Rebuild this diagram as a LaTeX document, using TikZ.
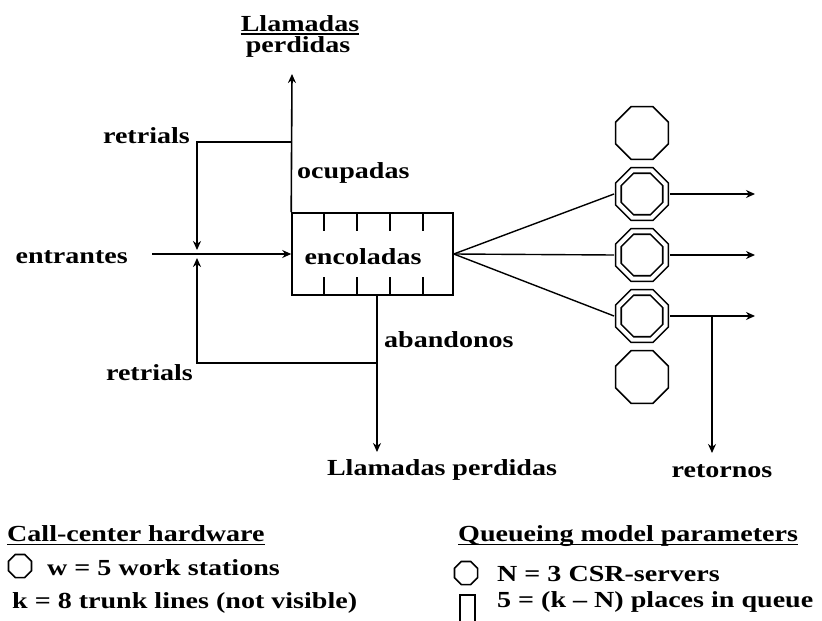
\documentclass[tikz,border=0pt]{standalone}
\usepackage{fontspec}
\usetikzlibrary{arrows.meta,shapes.geometric}
\newfontfamily\diagfont{Liberation Serif}[FakeStretch=1.22]

\begin{document}
\begin{tikzpicture}[x=1pt,y=-1pt,
  flow/.style={line width=1.6pt},
  fan/.style={line width=1.4pt},
  arr/.style={flow,-{Stealth[length=9pt,width=8pt]}},
  lbl/.style={font=\diagfont\bfseries\fontsize{23}{21}\selectfont, inner sep=0pt},
  uline/.style={line width=1.3pt},
  octa/.style={draw, line width=1.6pt, regular polygon, regular polygon sides=8,
    minimum size=#1, inner sep=0pt},
  busy/.style={octa=51pt, double, double distance=4pt},
  idle/.style={octa=57pt},
  qbox/.style={draw, line width=1.6pt, minimum width=161pt, minimum height=82pt, inner sep=0pt}
]
\useasboundingbox (0,0) rectangle (822,621);

% queue with its waiting places
\node[qbox] (queue) at (372.5,254) {};
\foreach \k in {1,...,4} {
  \draw[flow] ([xshift=\k*33pt]queue.north west) -- ++(0,19);
  \draw[flow] ([xshift=\k*33pt]queue.south west) -- ++(0,-19);
}
\node[lbl, anchor=base] (qlabel) at (363,264) {encoladas};

% incoming calls
\node[lbl, anchor=base east] (entr) at (128,263) {entrantes};
\coordinate (inA) at (152,254);
\draw[arr] (inA) -- (queue.west);

% busy signal: lost calls and retrials
\coordinate (lostTop) at (292,74);
\coordinate (jTop) at (292,142);
\coordinate (mTop) at (197,142);
\coordinate (mergeA) at (197,250);
\draw[arr] (queue.north west) -- (lostTop);
\draw[arr] (jTop) -- (mTop) -- (mergeA);
\node[lbl, anchor=base] (lostTopA) at (300,31) {Llamadas};
\draw[uline] ([yshift=-3pt]lostTopA.base west) -- ([yshift=-3pt]lostTopA.base east);
\node[lbl, anchor=base] (lostTopB) at (298,52) {perdidas};
\node[lbl, anchor=base west] (ocup) at (297,178) {ocupadas};
\node[lbl, anchor=base east] (retA) at (190,143) {retrials};

% abandonment: lost calls and retrials
\coordinate (lostBot) at (377,452);
\coordinate (jBot) at (377,363);
\coordinate (mBot) at (197,363);
\coordinate (mergeB) at (197,258);
\draw[arr] ([xshift=4.5pt]queue.south) -- (lostBot);
\draw[arr] (jBot) -- (mBot) -- (mergeB);
\node[lbl, anchor=base west] (aband) at (384,347) {abandonos};
\node[lbl, anchor=base east] (retB) at (193,380) {retrials};
\node[lbl, anchor=base] (lostBotLbl) at (442,475) {Llamadas perdidas};

% work stations: idle ones and CSR servers
\node[idle] (w1) at (642,133) {};
\node[busy] (s1) at (642,194) {};
\node[busy] (s2) at (642,255) {};
\node[busy] (s3) at (642,316) {};
\node[idle] (w5) at (642,377) {};

\draw[fan] (queue.east) -- ([xshift=-3.6pt]s1.west);
\draw[fan] (queue.east) -- ([xshift=-3.6pt]s2.west);
\draw[fan] (queue.east) -- ([xshift=-3.6pt]s3.west);

\coordinate (o1) at (755,194);
\coordinate (o2) at (755,255);
\coordinate (o3) at (755,316);
\draw[arr] ([xshift=3.6pt]s1.east) -- (o1);
\draw[arr] ([xshift=3.6pt]s2.east) -- (o2);
\draw[arr] ([xshift=3.6pt]s3.east) -- (o3);

% returning calls
\coordinate (jRet) at (712,316);
\coordinate (retEnd) at (712,453);
\draw[arr] (jRet) -- (retEnd);
\node[lbl, anchor=base] (ret) at (722,477) {retornos};

% legend: hardware
\node[lbl, anchor=base west] (hwTitle) at (7,541) {Call-center hardware};
\draw[uline] ([yshift=-3.5pt]hwTitle.base west) -- ([yshift=-3.5pt]hwTitle.base east);
\node[octa=25pt] (hwIcon) at (20,566) {};
\node[lbl, anchor=base west] (hwW) at (47,575) {w = 5 work stations};
\node[lbl, anchor=base west] (hwK) at (12,608) {k = 8 trunk lines (not visible)};

% legend: queueing model
\node[lbl, anchor=base west] (qmTitle) at (458,541) {Queueing model parameters};
\draw[uline] ([yshift=-3.5pt]qmTitle.base west) -- ([yshift=-3.5pt]qmTitle.base east);
\node[octa=25pt] (qmIcon) at (466,573) {};
\node[lbl, anchor=base west] (qmN) at (497,581) {N = 3 CSR-servers};
\draw[flow] (460,621) -- (460,595) -- (475,595) -- (475,621);
\node[lbl, anchor=base west] (qmQ) at (497,607) {5 = (k – N) places in queue};
\end{tikzpicture}
\end{document}
